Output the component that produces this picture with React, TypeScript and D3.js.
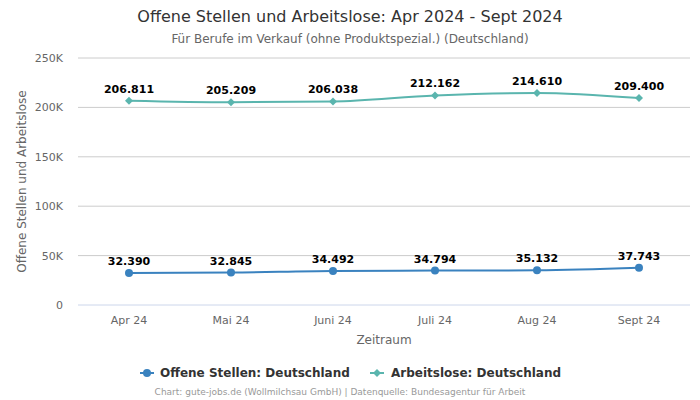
import React from "react";
import * as d3 from "d3";

const categories = ["Apr 24", "Mai 24", "Juni 24", "Juli 24", "Aug 24", "Sept 24"];
const offeneStellen = [32390, 32845, 34492, 34794, 35132, 37743];
const arbeitslose = [206811, 205209, 206038, 212162, 214610, 209400];
const yTicks = [0, 50000, 100000, 150000, 200000, 250000];
const seriesNames = ["Offene Stellen: Deutschland", "Arbeitslose: Deutschland"];

const W = 700, H = 400;
const left = 78, right = 690, top = 58, bottom = 305;
const BLUE = "#3a82bf";
const TEAL = "#5ab5ae";
const FONT = "'DejaVu Sans', Verdana, sans-serif";

const fmt = (v: number) => d3.format(",")(v).replace(/,/g, ".");
const tickFmt = (v: number) => (v === 0 ? "0" : `${v / 1000}K`);

export default function App() {
  const x = d3.scaleBand<string>().domain(categories).range([left, right]);
  const y = d3.scaleLinear().domain([0, 250000]).range([bottom, top]);
  const cx = (c: string) => (x(c) as number) + x.bandwidth() / 2;
  const line = d3
    .line<number>()
    .x((_, i) => cx(categories[i]))
    .y((d) => y(d))
    .curve(d3.curveMonotoneX);

  const diamond = (px: number, py: number, r = 4) =>
    `M${px},${py - r}L${px + r},${py}L${px},${py + r}L${px - r},${py}Z`;

  return (
    <svg width={W} height={H} style={{ position: "absolute", left: 0, top: 0, fontFamily: FONT }}>
      <rect width={W} height={H} fill="#fff" />
      <text x={350} y={22} textAnchor="middle" fontSize={16} fill="#333">
        Offene Stellen und Arbeitslose: Apr 2024 - Sept 2024
      </text>
      <text x={350} y={43} textAnchor="middle" fontSize={12} fill="#666">
        Für Berufe im Verkauf (ohne Produktspezial.) (Deutschland)
      </text>
      {yTicks.map((t) => (
        <g key={t}>
          <line x1={left} x2={right} y1={y(t)} y2={y(t)} stroke={t === 0 ? "#ccd6eb" : "#cccccc"} strokeWidth={1} />
          <text x={63} y={y(t) + 4} textAnchor="end" fontSize={11} fill="#666">
            {tickFmt(t)}
          </text>
        </g>
      ))}
      {categories.map((c) => (
        <text key={c} x={cx(c)} y={324} textAnchor="middle" fontSize={11} fill="#666">
          {c}
        </text>
      ))}
      <text x={384} y={344} textAnchor="middle" fontSize={12} fill="#666">
        Zeitraum
      </text>
      <text
        transform={`translate(26,${(top + bottom) / 2}) rotate(-90)`}
        textAnchor="middle"
        fontSize={12}
        fill="#666"
      >
        Offene Stellen und Arbeitslose
      </text>

      <path d={line(arbeitslose) || ""} fill="none" stroke={TEAL} strokeWidth={2} />
      {arbeitslose.map((v, i) => (
        <g key={"a" + i}>
          <path d={diamond(cx(categories[i]), y(v))} fill={TEAL} />
          <text x={cx(categories[i])} y={y(v) - 8} textAnchor="middle" fontSize={11} fontWeight="bold" fill="#000">
            {fmt(v)}
          </text>
        </g>
      ))}
      <path d={line(offeneStellen) || ""} fill="none" stroke={BLUE} strokeWidth={2} />
      {offeneStellen.map((v, i) => (
        <g key={"o" + i}>
          <circle cx={cx(categories[i])} cy={y(v)} r={4} fill={BLUE} />
          <text x={cx(categories[i])} y={y(v) - 8} textAnchor="middle" fontSize={11} fontWeight="bold" fill="#000">
            {fmt(v)}
          </text>
        </g>
      ))}

      <g>
        <line x1={140} x2={154} y1={373} y2={373} stroke={BLUE} strokeWidth={2} />
        <circle cx={147} cy={373} r={4} fill={BLUE} />
        <text x={160} y={377} fontSize={12} fontWeight="bold" fill="#333">
          {seriesNames[0]}
        </text>
        <line x1={370} x2={384} y1={373} y2={373} stroke={TEAL} strokeWidth={2} />
        <path d={diamond(377, 373)} fill={TEAL} />
        <text x={391} y={377} fontSize={12} fontWeight="bold" fill="#333">
          {seriesNames[1]}
        </text>
      </g>
      <text x={340} y={395} textAnchor="middle" fontSize={9} fill="#999">
        Chart: gute-jobs.de (Wollmilchsau GmbH) | Datenquelle: Bundesagentur für Arbeit
      </text>
    </svg>
  );
}
